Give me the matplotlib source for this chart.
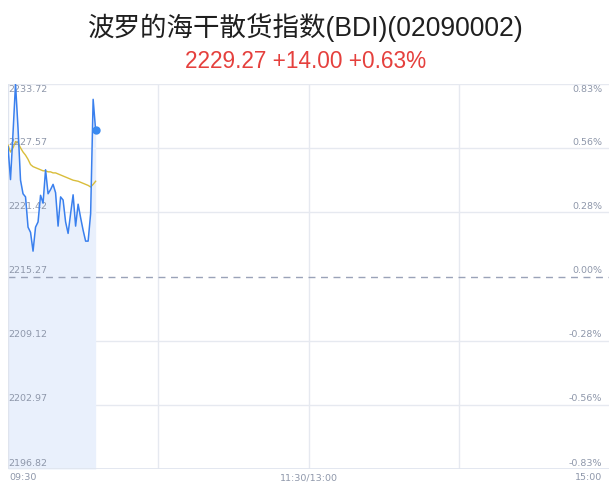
import matplotlib
matplotlib.use("Agg")
import matplotlib.pyplot as plt

plt.rcParams['font.family'] = ['Liberation Sans', 'Noto Sans CJK SC', 'DejaVu Sans']

title = "波罗的海干散货指数(BDI)(02090002)"
subtitle = "2229.27 +14.00 +0.63%"
prev_close = 2215.27
y_ticks = [2196.82, 2202.97, 2209.12, 2215.27, 2221.42, 2227.57, 2233.72]
pct_labels = ["-0.83%", "-0.56%", "-0.28%", "0.00%", "0.28%", "0.56%", "0.83%"]
x_labels = ["09:30", "11:30/13:00", "15:00"]
total_minutes = 240

# minute-by-minute prices from 09:30
price = [2227.7, 2224.56, 2229.0, 2233.72, 2229.5, 2224.5, 2223.2, 2222.9, 2220.0, 2219.5,
         2217.7, 2220.0, 2220.5, 2223.05, 2222.3, 2225.5, 2223.2, 2223.6, 2224.1, 2223.3,
         2220.1, 2222.9, 2222.6, 2220.5, 2219.4, 2221.3, 2223.1, 2220.1, 2222.2, 2220.9,
         2219.7, 2218.66, 2218.66, 2221.3, 2232.25, 2229.27]
avg = [2227.86, 2227.2, 2227.6, 2228.2, 2228.1, 2227.6, 2227.2, 2226.9, 2226.5, 2226.0,
       2225.8, 2225.7, 2225.6, 2225.5, 2225.4, 2225.4, 2225.3, 2225.3, 2225.2, 2225.2,
       2225.1, 2225.0, 2224.9, 2224.8, 2224.7, 2224.6, 2224.5, 2224.45, 2224.4, 2224.3,
       2224.2, 2224.1, 2224.0, 2223.85, 2224.1, 2224.4]
minutes = list(range(len(price)))

W, H = 611, 492
fig = plt.figure(figsize=(W / 100, H / 100), dpi=100)
left, right, top, bottom = 8, 609, 84, 469
ax = fig.add_axes([left / W, (H - bottom) / H, (right - left) / W, (bottom - top) / H])

ymin, ymax = y_ticks[0], y_ticks[-1]
ax.set_xlim(0, total_minutes)
ax.set_ylim(ymin, ymax)

grid_c = "#e6e9f0"
for yt in y_ticks:
    if yt == prev_close:
        continue
    ax.axhline(yt, color=grid_c, lw=1, zorder=1)
for xt in [60, 120, 180]:
    ax.axvline(xt, color=grid_c, lw=1, zorder=1)
ax.axhline(prev_close, color="#9aa3b8", lw=1, ls=(0, (5, 4)), zorder=2)

ax.fill_between(minutes, price, ymin, color="#e9f0fc", lw=0, zorder=1.5)
ax.plot(minutes, avg, color="#d9bd3a", lw=1, zorder=3)
ax.plot(minutes, price, color="#3a80ee", lw=1.1, zorder=4)
ax.plot(minutes[-1], price[-1], "o", color="#3a8af0", ms=6, zorder=5, mec="none")

for s in ax.spines.values():
    s.set_visible(False)
ax.axvline(0, color="#dfe4ee", lw=1, zorder=2)
ax.axhline(ymin, color="#dfe4ee", lw=1.2, zorder=2)
ax.set_xticks([])
ax.set_yticks([])

lab_c = "#8e97aa"
fs = 6.8
for yt, pl in zip(y_ticks, pct_labels):
    if yt == ymax:
        off, va = -1, "top"
    else:
        off, va = 1, "bottom"
    ax.annotate(f"{yt:.2f}", (0, yt), xytext=(0.5, off), textcoords="offset points",
                ha="left", va=va, fontsize=fs, color=lab_c, family="DejaVu Sans")
    ax.annotate(pl, (total_minutes, yt), xytext=(-5, off), textcoords="offset points",
                ha="right", va=va, fontsize=fs, color=lab_c, family="DejaVu Sans")

ax.annotate(x_labels[0], (0, ymin), xytext=(1, -3), textcoords="offset points",
            ha="left", va="top", fontsize=fs, color=lab_c, family="DejaVu Sans")
ax.annotate(x_labels[1], (total_minutes / 2, ymin), xytext=(0, -3), textcoords="offset points",
            ha="center", va="top", fontsize=fs, color=lab_c, family="DejaVu Sans")
ax.annotate(x_labels[2], (total_minutes, ymin), xytext=(-5, -3), textcoords="offset points",
            ha="right", va="top", fontsize=fs, color=lab_c, family="DejaVu Sans")

fig.text(306 / W, 1 - 28 / H, title, ha="center", va="center", fontsize=19.1,
         color="#1f1f1f")
fig.text(306 / W, 1 - 61 / H, subtitle, ha="center", va="center", fontsize=16.3,
         color="#e5403d")

fig.savefig("out.png", dpi=100)
